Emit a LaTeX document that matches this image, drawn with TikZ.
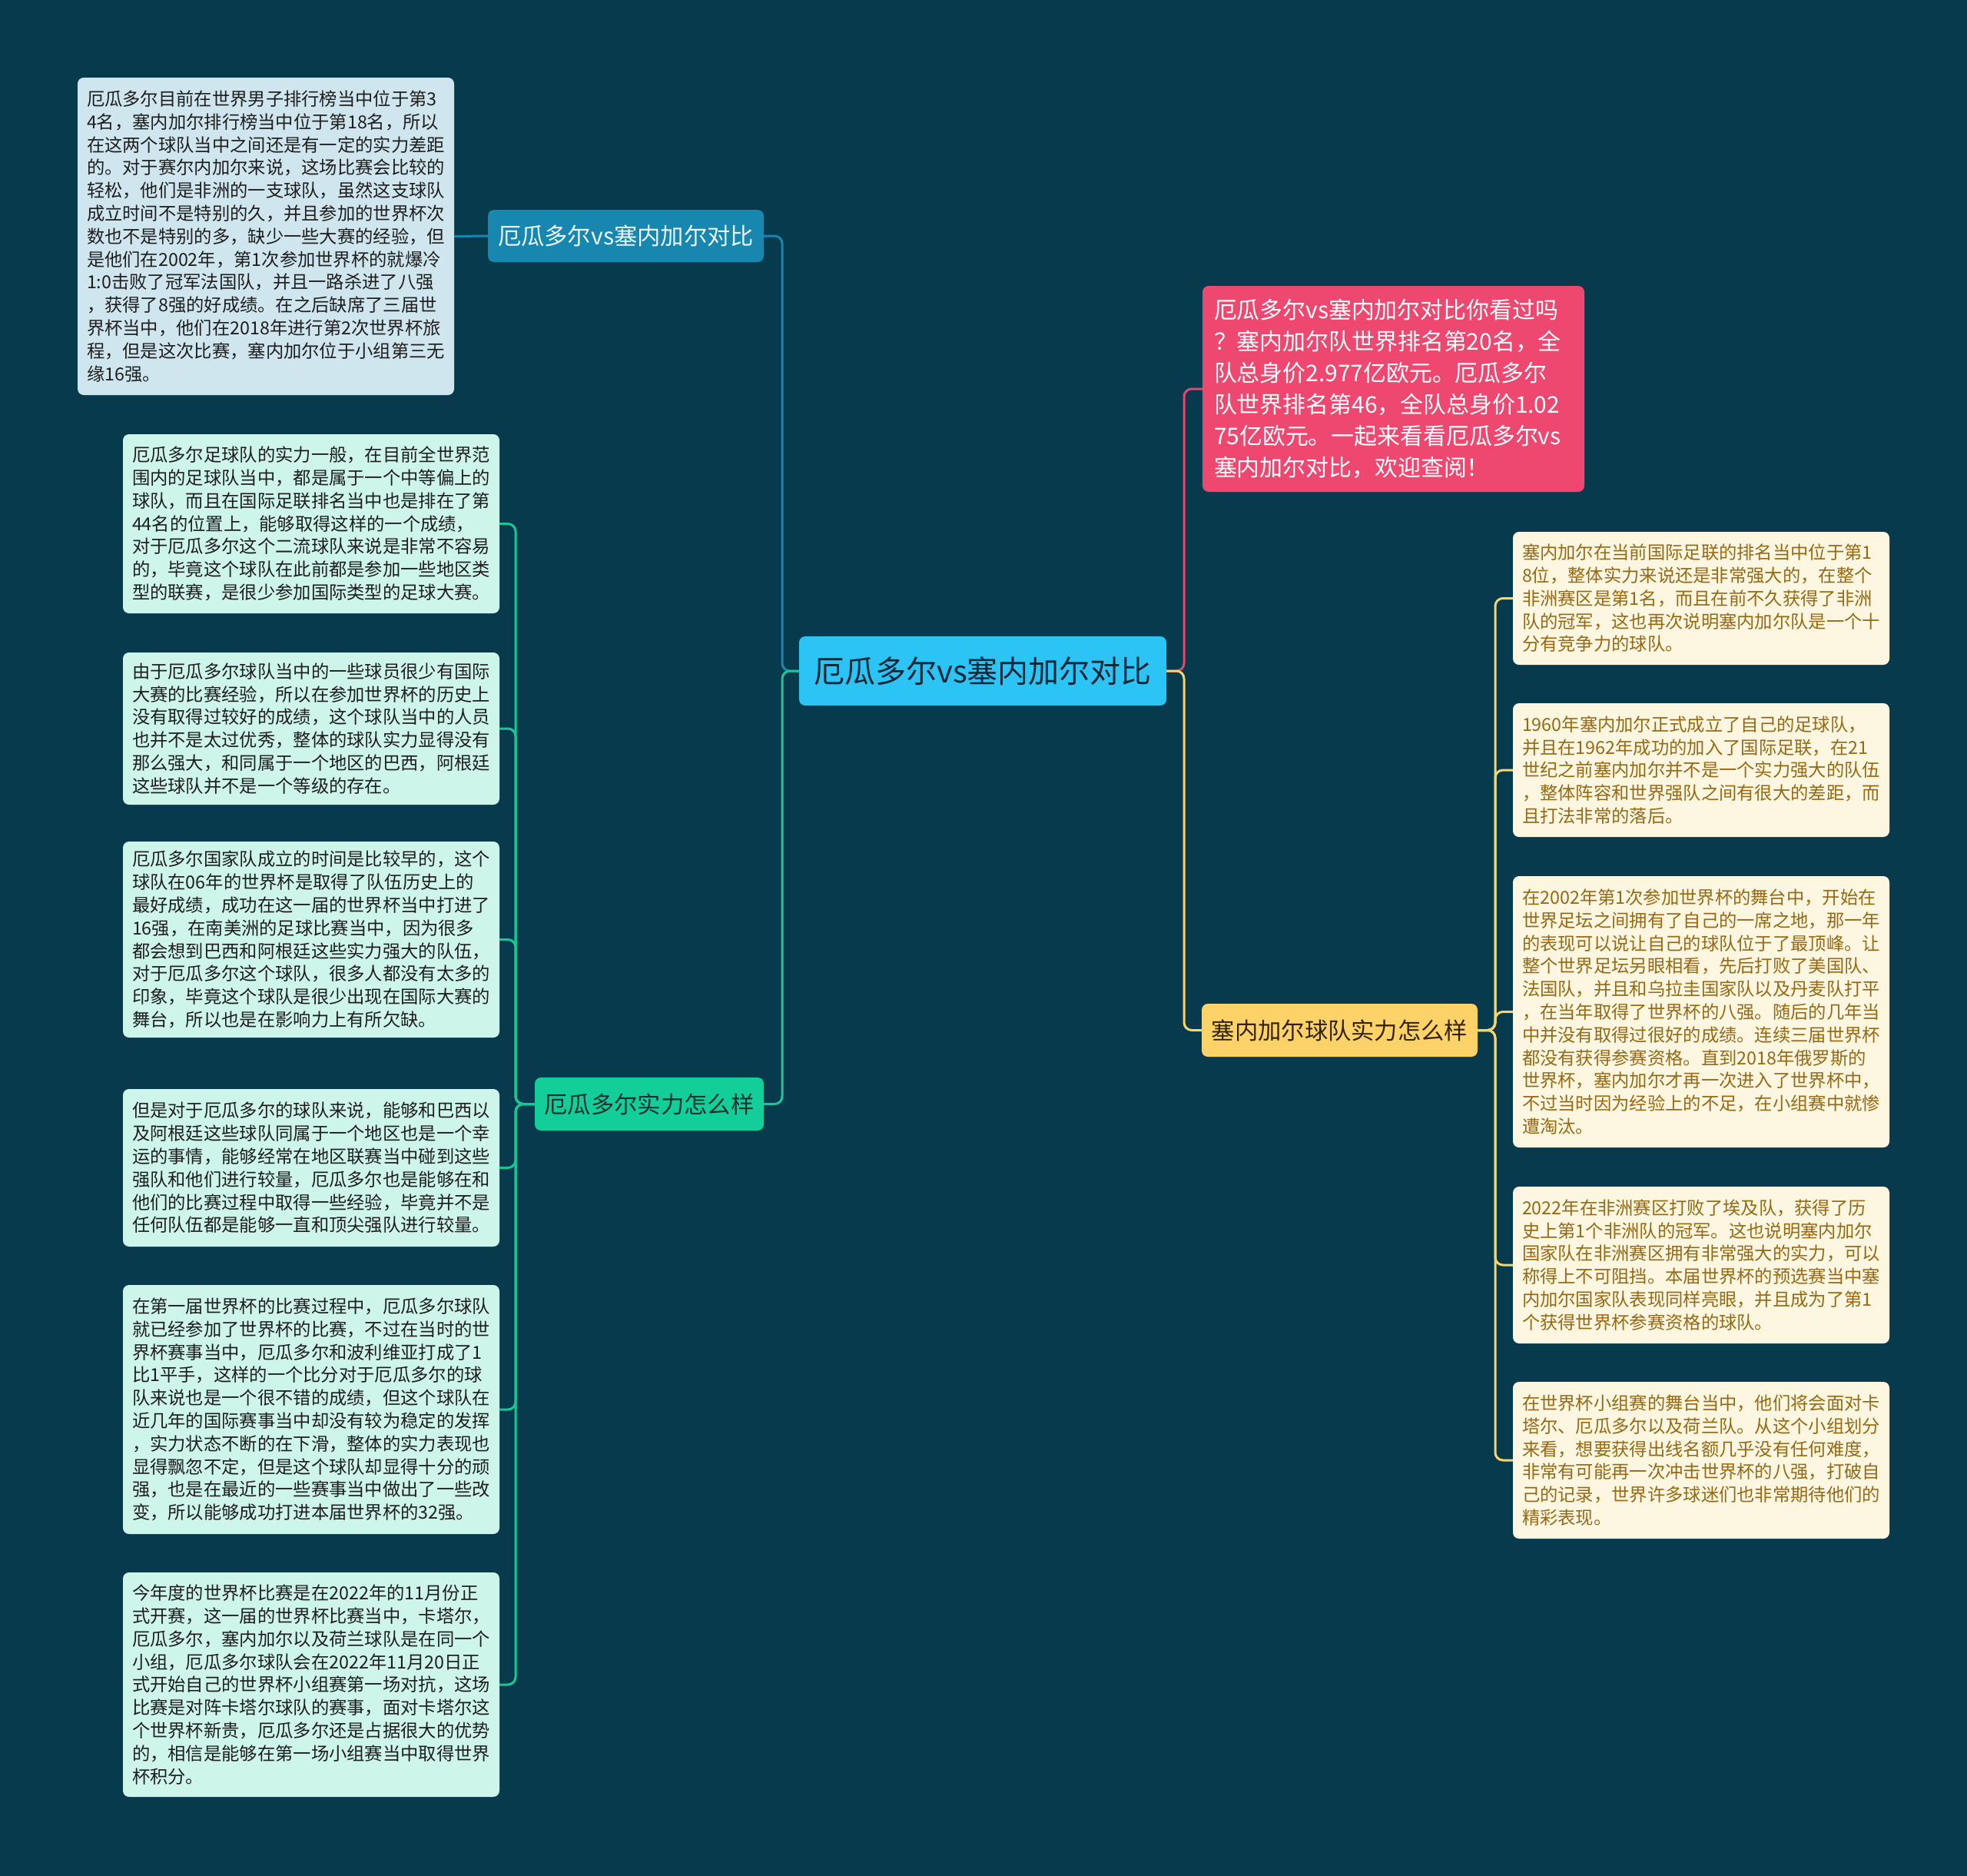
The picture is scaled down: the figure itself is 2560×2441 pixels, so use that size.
\documentclass[tikz,border=0pt]{standalone}
\usepackage{fontspec}
\setmainfont{Noto Sans CJK SC}
\definecolor{bgc}{RGB}{7,58,77}
\definecolor{centc}{RGB}{44,196,245}
\definecolor{centt}{RGB}{12,40,56}
\definecolor{bbc}{RGB}{23,135,175}
\definecolor{bbt}{RGB}{232,244,248}
\definecolor{gbc}{RGB}{19,206,152}
\definecolor{gbt}{RGB}{10,50,50}
\definecolor{pkc}{RGB}{239,72,112}
\definecolor{ybc}{RGB}{253,210,105}
\definecolor{ybt}{RGB}{50,35,5}
\definecolor{bleafc}{RGB}{208,230,239}
\definecolor{gleafc}{RGB}{206,245,234}
\definecolor{yleafc}{RGB}{253,246,224}
\definecolor{leaftext}{RGB}{30,30,30}
\definecolor{goldtext}{RGB}{150,105,20}
\definecolor{glinec}{RGB}{22,200,150}
\definecolor{ylinec}{RGB}{247,212,110}
\definecolor{plinec}{RGB}{230,70,110}
\definecolor{blinec}{RGB}{23,135,175}
\begin{document}
\begin{tikzpicture}[x=1pt,y=-1pt,
  nbox/.style={anchor=north west, rounded corners=8pt, inner sep=0pt, outer sep=0pt},
  leaf/.style={nbox, align=left, inner xsep=12pt, inner ysep=6pt, text width=466pt,
    font=\fontsize{23.3pt}{29.8pt}\selectfont},
  bleaf/.style={leaf, fill=bleafc, text=leaftext},
  gleaf/.style={leaf, fill=gleafc, text=leaftext},
  yleaf/.style={leaf, fill=yleafc, text=goldtext},
  branch/.style={nbox, minimum height=69pt, align=center, font=\fontsize{30.3pt}{35pt}\selectfont},
  conn/.style={line width=3pt, rounded corners=10pt},
]
\fill[bgc] (0,0) rectangle (2560,2441);
\useasboundingbox (0,0) rectangle (2560,2441);

% central
\node[nbox, fill=centc, text=centt, minimum width=478pt, minimum height=90pt,
  font=\fontsize{40pt}{45pt}\selectfont] (c) at (1040,828) {厄瓜多尔vs塞内加尔对比};

% branches
\node[branch, fill=bbc, text=bbt, minimum width=359pt, minimum height=68pt] (bb) at (635,273) {厄瓜多尔vs塞内加尔对比};
\node[branch, fill=gbc, text=gbt, minimum width=298pt] (gb) at (696,1402) {厄瓜多尔实力怎么样};
\node[branch, fill=ybc, text=ybt, minimum width=359pt] (yb) at (1564,1306) {塞内加尔球队实力怎么样};
\node[nbox, fill=pkc, text=white, align=left, inner xsep=15pt, text width=467pt,
  minimum height=268pt, font=\fontsize{29.9pt}{41pt}\selectfont] (pk) at (1565,372) {%
厄瓜多尔vs塞内加尔对比你看过吗\\
？塞内加尔队世界排名第20名，全\\
队总身价2.977亿欧元。厄瓜多尔\\
队世界排名第46，全队总身价1.02\\
75亿欧元。一起来看看厄瓜多尔vs\\
塞内加尔对比，欢迎查阅！};

% top-left leaf
\node[bleaf, minimum height=413pt] (bl) at (101,101) {%
厄瓜多尔目前在世界男子排行榜当中位于第3\\
4名，塞内加尔排行榜当中位于第18名，所以\\
在这两个球队当中之间还是有一定的实力差距\\
的。对于赛尔内加尔来说，这场比赛会比较的\\
轻松，他们是非洲的一支球队，虽然这支球队\\
成立时间不是特别的久，并且参加的世界杯次\\
数也不是特别的多，缺少一些大赛的经验，但\\
是他们在2002年，第1次参加世界杯的就爆冷\\
1:0击败了冠军法国队，并且一路杀进了八强\\
，获得了8强的好成绩。在之后缺席了三届世\\
界杯当中，他们在2018年进行第2次世界杯旅\\
程，但是这次比赛，塞内加尔位于小组第三无\\
缘16强。};

% green leaves
\node[gleaf, minimum height=233pt] (g1) at (160,565) {%
厄瓜多尔足球队的实力一般，在目前全世界范\\
围内的足球队当中，都是属于一个中等偏上的\\
球队，而且在国际足联排名当中也是排在了第\\
44名的位置上，能够取得这样的一个成绩，\\
对于厄瓜多尔这个二流球队来说是非常不容易\\
的，毕竟这个球队在此前都是参加一些地区类\\
型的联赛，是很少参加国际类型的足球大赛。};
\node[gleaf, minimum height=198pt] (g2) at (160,849) {%
由于厄瓜多尔球队当中的一些球员很少有国际\\
大赛的比赛经验，所以在参加世界杯的历史上\\
没有取得过较好的成绩，这个球队当中的人员\\
也并不是太过优秀，整体的球队实力显得没有\\
那么强大，和同属于一个地区的巴西，阿根廷\\
这些球队并不是一个等级的存在。};
\node[gleaf, minimum height=255pt] (g3) at (160,1095) {%
厄瓜多尔国家队成立的时间是比较早的，这个\\
球队在06年的世界杯是取得了队伍历史上的\\
最好成绩，成功在这一届的世界杯当中打进了\\
16强，在南美洲的足球比赛当中，因为很多\\
都会想到巴西和阿根廷这些实力强大的队伍，\\
对于厄瓜多尔这个球队，很多人都没有太多的\\
印象，毕竟这个球队是很少出现在国际大赛的\\
舞台，所以也是在影响力上有所欠缺。};
\node[gleaf, minimum height=205pt] (g4) at (160,1417) {%
但是对于厄瓜多尔的球队来说，能够和巴西以\\
及阿根廷这些球队同属于一个地区也是一个幸\\
运的事情，能够经常在地区联赛当中碰到这些\\
强队和他们进行较量，厄瓜多尔也是能够在和\\
他们的比赛过程中取得一些经验，毕竟并不是\\
任何队伍都是能够一直和顶尖强队进行较量。};
\node[gleaf, minimum height=324pt] (g5) at (160,1672) {%
在第一届世界杯的比赛过程中，厄瓜多尔球队\\
就已经参加了世界杯的比赛，不过在当时的世\\
界杯赛事当中，厄瓜多尔和波利维亚打成了1\\
比1平手，这样的一个比分对于厄瓜多尔的球\\
队来说也是一个很不错的成绩，但这个球队在\\
近几年的国际赛事当中却没有较为稳定的发挥\\
，实力状态不断的在下滑，整体的实力表现也\\
显得飘忽不定，但是这个球队却显得十分的顽\\
强，也是在最近的一些赛事当中做出了一些改\\
变，所以能够成功打进本届世界杯的32强。};
\node[gleaf, minimum height=292pt] (g6) at (160,2046) {%
今年度的世界杯比赛是在2022年的11月份正\\
式开赛，这一届的世界杯比赛当中，卡塔尔，\\
厄瓜多尔，塞内加尔以及荷兰球队是在同一个\\
小组，厄瓜多尔球队会在2022年11月20日正\\
式开始自己的世界杯小组赛第一场对抗，这场\\
比赛是对阵卡塔尔球队的赛事，面对卡塔尔这\\
个世界杯新贵，厄瓜多尔还是占据很大的优势\\
的，相信是能够在第一场小组赛当中取得世界\\
杯积分。};

% yellow leaves
\node[yleaf, minimum height=173pt] (y1) at (1969,692) {%
塞内加尔在当前国际足联的排名当中位于第1\\
8位，整体实力来说还是非常强大的，在整个\\
非洲赛区是第1名，而且在前不久获得了非洲\\
队的冠军，这也再次说明塞内加尔队是一个十\\
分有竞争力的球队。};
\node[yleaf, minimum height=174pt] (y2) at (1969,915) {%
1960年塞内加尔正式成立了自己的足球队，\\
并且在1962年成功的加入了国际足联，在21\\
世纪之前塞内加尔并不是一个实力强大的队伍\\
，整体阵容和世界强队之间有很大的差距，而\\
且打法非常的落后。};
\node[yleaf, minimum height=353pt] (y3) at (1969,1140) {%
在2002年第1次参加世界杯的舞台中，开始在\\
世界足坛之间拥有了自己的一席之地，那一年\\
的表现可以说让自己的球队位于了最顶峰。让\\
整个世界足坛另眼相看，先后打败了美国队、\\
法国队，并且和乌拉圭国家队以及丹麦队打平\\
，在当年取得了世界杯的八强。随后的几年当\\
中并没有取得过很好的成绩。连续三届世界杯\\
都没有获得参赛资格。直到2018年俄罗斯的\\
世界杯，塞内加尔才再一次进入了世界杯中，\\
不过当时因为经验上的不足，在小组赛中就惨\\
遭淘汰。};
\node[yleaf, minimum height=204pt] (y4) at (1969,1544) {%
2022年在非洲赛区打败了埃及队，获得了历\\
史上第1个非洲队的冠军。这也说明塞内加尔\\
国家队在非洲赛区拥有非常强大的实力，可以\\
称得上不可阻挡。本届世界杯的预选赛当中塞\\
内加尔国家队表现同样亮眼，并且成为了第1\\
个获得世界杯参赛资格的球队。};
\node[yleaf, minimum height=204pt] (y5) at (1969,1798) {%
在世界杯小组赛的舞台当中，他们将会面对卡\\
塔尔、厄瓜多尔以及荷兰队。从这个小组划分\\
来看，想要获得出线名额几乎没有任何难度，\\
非常有可能再一次冲击世界杯的八强，打破自\\
己的记录，世界许多球迷们也非常期待他们的\\
精彩表现。};

% connectors
\draw[conn, blinec] (c.west) -- ++(-22,0) |- (bb.east);
\draw[conn, glinec] (c.west) -- ++(-22,0) |- (gb.east);
\draw[conn, plinec] (c.east) -- ++(23,0) |- (pk.west);
\draw[conn, ylinec] (c.east) -- ++(23,0) |- (yb.west);
\draw[conn, blinec] (bb.west) -- (bl.east);
\foreach \g in {g1,g2,g3,g4,g5,g6}{
  \draw[conn, glinec] (gb.west) -- ++(-25,0) |- (\g.east);
}
\foreach \y in {y1,y2,y3,y4,y5}{
  \draw[conn, ylinec] (yb.east) -- ++(23,0) |- (\y.west);
}
\end{tikzpicture}
\end{document}
